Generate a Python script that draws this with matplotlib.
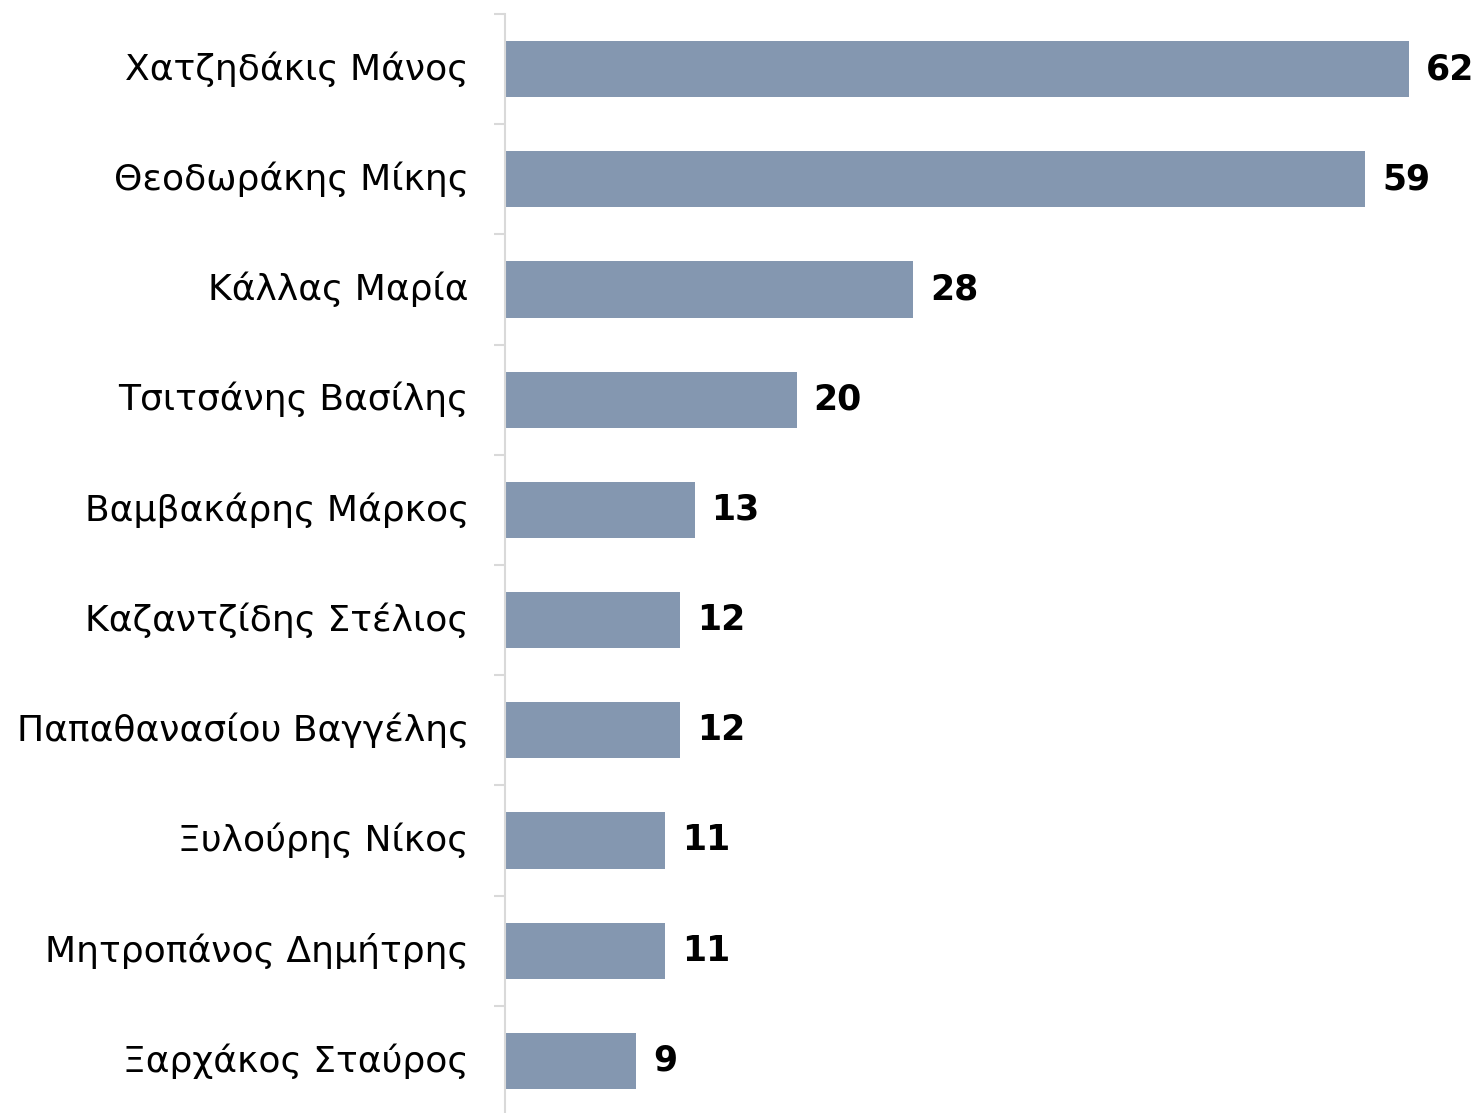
import matplotlib
matplotlib.use("Agg")
import matplotlib.pyplot as plt
import numpy as np

names = ["Χατζηδάκις Μάνος", "Θεοδωράκης Μίκης", "Κάλλας Μαρία", "Τσιτσάνης Βασίλης",
         "Βαμβακάρης Μάρκος", "Καζαντζίδης Στέλιος", "Παπαθανασίου Βαγγέλης",
         "Ξυλούρης Νίκος", "Μητροπάνος Δημήτρης", "Ξαρχάκος Σταύρος"]
values = [62, 59, 28, 20, 13, 12, 12, 11, 11, 9]

plt.rcParams['font.family'] = ['DejaVu Sans']

fig = plt.figure(figsize=(14.78, 11.13), dpi=100)
W, H = 1478, 1113
left = 505 / W
ax = fig.add_axes([left, -3 / H, 1 - left, 1102 / H])

y = np.arange(len(names))
ax.barh(y, values, height=0.51, color="#8497B0", zorder=2)
ax.set_ylim(len(names) - 0.5, -0.5)
ax.set_xlim(0, (W - 505) / ((1409 - 505) / 62))

ax.set_yticks(y)
ax.set_yticklabels(names, fontsize=26, color="#000000", va='center')
ax.tick_params(axis='y', which='major', length=0, pad=26)
ax.set_yticks(np.arange(-0.5, len(names), 1), minor=True)
ax.tick_params(axis='y', which='minor', length=8, width=1.5, color="#d9d9d9")
ax.set_xticks([])

for s in ['top', 'right', 'bottom']:
    ax.spines[s].set_visible(False)
ax.spines['left'].set_color("#d9d9d9")
ax.spines['left'].set_linewidth(1.5)

for yi, v in zip(y, values):
    ax.annotate(str(v), (v, yi), xytext=(12, 0), textcoords='offset points',
                va='center', ha='left', fontsize=25, fontweight='bold', color='black')

fig.savefig("out.png", dpi=100)
